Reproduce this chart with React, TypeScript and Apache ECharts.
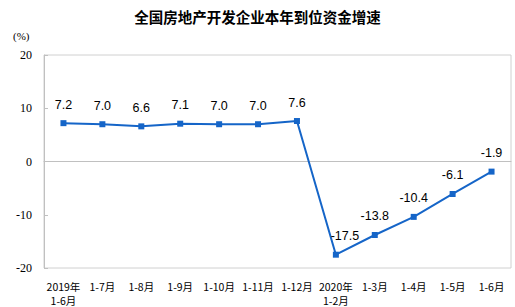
import React, { useEffect, useRef } from "react";
import * as echarts from "echarts";

const categories = [
  "2019年\n1-6月", "1-7月", "1-8月", "1-9月", "1-10月", "1-11月", "1-12月",
  "2020年\n1-2月", "1-3月", "1-4月", "1-5月", "1-6月",
];
const growth = [7.2, 7.0, 6.6, 7.1, 7.0, 7.0, 7.6, -17.5, -13.8, -10.4, -6.1, -1.9];
const titleText = "全国房地产开发企业本年到位资金增速";
const unitText = "(%)";

export default function App() {
  const ref = useRef<HTMLDivElement>(null);
  useEffect(() => {
    if (!ref.current) return;
    const chart = echarts.init(ref.current, null, { renderer: "svg" });
    chart.setOption({
      animation: false,
      backgroundColor: "#ffffff",
      title: {
        text: titleText,
        left: "center",
        top: 4,
        textStyle: { fontSize: 14.5, fontWeight: "bold", color: "#000", fontFamily: "Noto Sans CJK SC" },
      },
      graphic: [
        {
          type: "text",
          left: 13,
          top: 30,
          style: { text: unitText, fontSize: 11, fill: "#000", fontFamily: "Liberation Serif" },
        },
      ],
      grid: {
        left: 44, right: 4, top: 55, bottom: 37,
        show: true, borderColor: "#d0d0d0", borderWidth: 1,
      },
      xAxis: {
        type: "category",
        data: categories,
        boundaryGap: true,
        axisLine: { lineStyle: { color: "#c0c0c0" } },
        axisTick: { inside: true, length: 4, lineStyle: { color: "#c0c0c0" } },
        axisLabel: {
          interval: 0, color: "#000", fontSize: 10.5, margin: 11, lineHeight: 14,
          fontFamily: "Noto Sans CJK SC",
        },
      },
      yAxis: {
        type: "value",
        min: -20, max: 20, interval: 10,
        axisLine: { show: true, lineStyle: { color: "#c0c0c0" } },
        axisTick: { show: true, inside: true, length: 4, lineStyle: { color: "#c0c0c0" } },
        splitLine: { show: false },
        axisLabel: { color: "#000", fontSize: 12, margin: 12, fontFamily: "Liberation Serif" },
      },
      series: [
        {
          type: "line",
          data: growth.map((v, i) =>
            i === 7 ? { value: v, label: { offset: [9, 0] } } : v
          ),
          symbol: "rect",
          symbolSize: 6,
          lineStyle: { color: "#1565c8", width: 2 },
          itemStyle: { color: "#1565c8" },
          label: {
            show: true,
            position: "top",
            distance: 9,
            color: "#000",
            fontSize: 12.5,
            fontFamily: "Liberation Sans",
            formatter: (p: any) => Number(p.value).toFixed(1),
          },
        },
      ],
    });
    return () => chart.dispose();
  }, []);
  return <div ref={ref} style={{ width: 515, height: 307, position: "absolute", left: 0, top: 0 }} />;
}
